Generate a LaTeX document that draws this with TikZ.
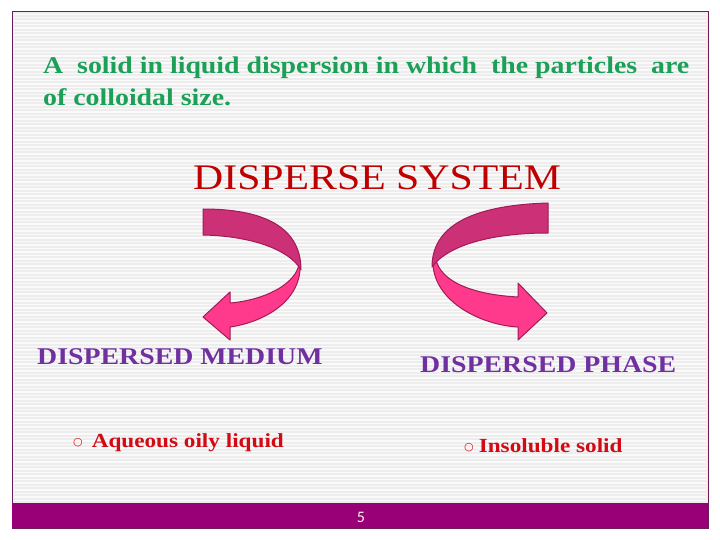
\documentclass[tikz,border=0pt]{standalone}
\usepackage{fontspec}
\setmainfont{Liberation Serif}[FakeStretch=1.16]
\newfontfamily\bulletfont{DejaVu Sans}
\newfontfamily\numfont{Carlito}
\usepackage{xcolor}
\usepackage{tikz}
\usetikzlibrary{positioning}
\definecolor{framepurple}{RGB}{107, 30, 94}
\definecolor{barpurple}{RGB}{153, 0, 119}
\definecolor{stripegray}{RGB}{237, 237, 237}
\definecolor{textgreen}{RGB}{28, 160, 88}
\definecolor{titlered}{RGB}{192, 0, 0}
\definecolor{labelpurple}{RGB}{112, 48, 160}
\definecolor{bulletred}{RGB}{210, 10, 20}
\definecolor{arrowdark}{RGB}{204, 48, 118}
\definecolor{arrowbright}{RGB}{255, 58, 140}
\definecolor{arrowedge}{RGB}{160, 28, 86}

\tikzset{
    txt/.style={inner sep=0pt, anchor=base west},
    phaselabel/.style={txt, labelpurple, font=\fontsize{24}{28}\selectfont\bfseries},
    itemtext/.style={txt, bulletred, font=\fontsize{20}{24}\selectfont\bfseries},
    darkband/.style={fill=arrowdark, draw=arrowedge, line width=1pt, line join=round},
    brightband/.style={fill=arrowbright, draw=arrowedge, line width=1pt, line join=round}
}
\newcommand{\itembullet}{\raisebox{1.5pt}{\bulletfont\fontsize{11}{11}\selectfont ○}}

\begin{document}
\begin{tikzpicture}[x=1pt, y=-1pt]
    \useasboundingbox (0,0) rectangle (720,540);
    \fill[white] (0,0) rectangle (720,540);

    % Slide background
    \fill[stripegray] (12,12) rectangle (708,528);
    \foreach \y in {14,17.5,...,502}
        \draw[white!70!stripegray, line width=1.6pt] (13,\y) -- (707,\y);
    \draw[pink!30, line width=1.5pt] (13.5,13.5) rectangle (706.5,527);
    \draw[framepurple, line width=1pt] (12,12) rectangle (708,528);

    % Bottom bar
    \fill[barpurple] (12,503) rectangle (708,528);
    \node[inner sep=0pt, text=pink!20, font=\numfont\fontsize{16}{16}\selectfont] (pagenum) at (361,517) {5};

    % Definition (anchored on its last line)
    \node[txt, textgreen, font=\fontsize{24}{32}\selectfont\bfseries, align=left] (defn) at (43,106)
        {A\ \ solid in liquid dispersion in which\ \ the particles\ \ are\\of colloidal size.};

    % Title
    \node[txt, titlered, font=\fontsize{36}{40}\selectfont] (title) at (193,190) {DISPERSE SYSTEM};

    % Left curved arrow
    \draw[brightband] (300,262) .. controls (303,300) and (265,322) .. (230,327)
        -- (230,340) -- (203,317) -- (230,292) -- (230,303)
        .. controls (265,300) and (292,285) .. (298,268) -- cycle;
    \draw[darkband] (203,209) .. controls (262,209) and (301,226) .. (301,270)
        .. controls (290,250) and (252,236) .. (203,235) -- cycle;

    % Right curved arrow
    \draw[brightband] (433,258) .. controls (430,300) and (480,325) .. (518,327)
        -- (518,340) -- (547,313) -- (518,283) -- (518,297)
        .. controls (480,295) and (445,285) .. (437,263) -- cycle;
    \draw[darkband] (548,203) .. controls (480,205) and (432,222) .. (432,267)
        .. controls (448,245) and (492,233) .. (548,233) -- cycle;

    % Phase labels
    \node[phaselabel] (medium) at (37,364) {DISPERSED MEDIUM};
    \node[phaselabel] (phase) at (420,372) {DISPERSED PHASE};

    % Items
    \node[itemtext] (mediumitem) at (73,447) {\itembullet\hspace{9pt}Aqueous oily liquid};
    \node[itemtext] (phaseitem) at (464,452) {\itembullet\hspace{5pt}Insoluble solid};

\end{tikzpicture}
\end{document}
